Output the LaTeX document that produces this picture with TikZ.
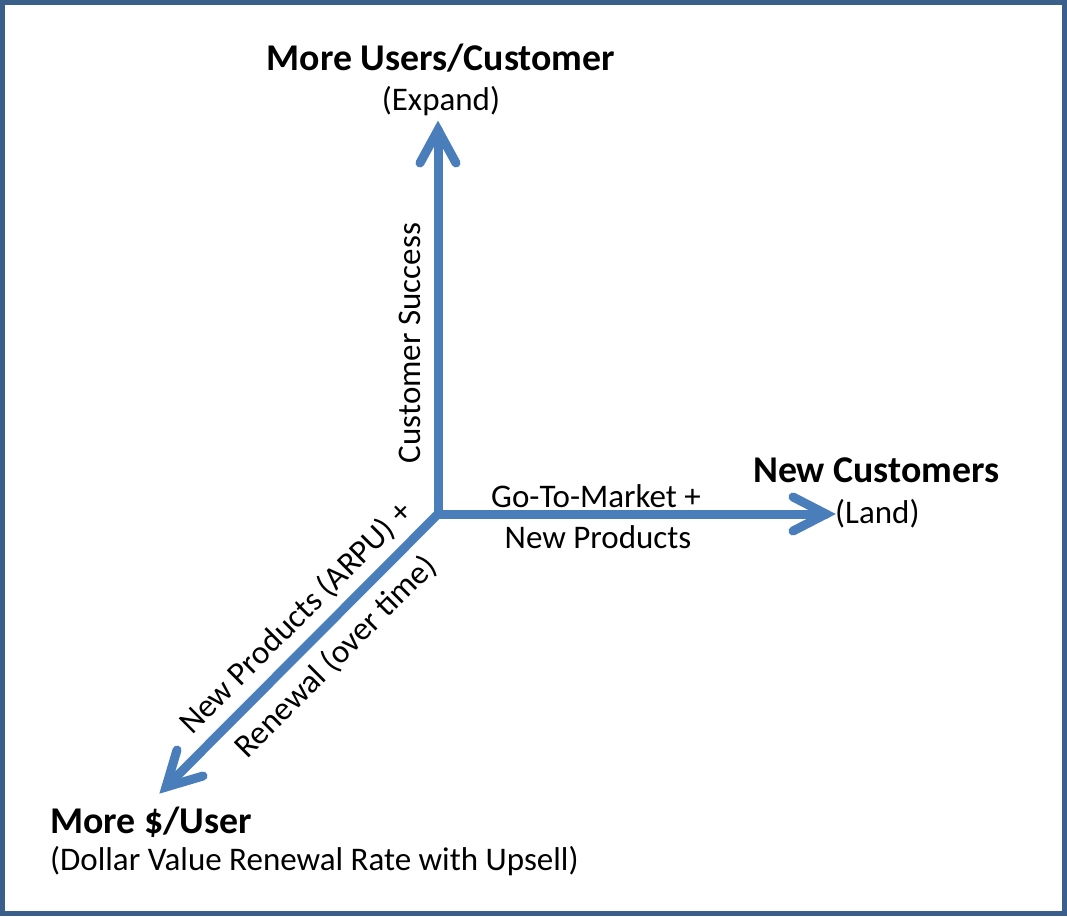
\documentclass[tikz,border=0pt]{standalone}
\usepackage{fontspec}
\setmainfont{Carlito}
\begin{document}
\begin{tikzpicture}[x=1pt,y=-1pt,
  axis/.style={draw=arrowblue,line width=9pt,line cap=round,line join=miter},
  head/.style={draw=arrowblue,line width=9pt,line cap=round,line join=miter,miter limit=10},
  title/.style={font=\fontsize{37.8}{42}\selectfont\bfseries,inner sep=0pt},
  sub/.style={font=\fontsize{33}{38}\selectfont,inner sep=0pt},
  lab/.style={font=\fontsize{33}{38}\selectfont,inner sep=0pt}]
\definecolor{arrowblue}{HTML}{4A7EBB}
\definecolor{framecol}{HTML}{3A5F8B}
\useasboundingbox (0,0) rectangle (1067,916);
\draw[framecol,line width=5pt] (2.5,2.5) rectangle (1064.5,913.5);
% axes
\coordinate (o) at (438,514);
\coordinate (up) at (438,130);
\coordinate (upL) at (420,163);
\coordinate (upR) at (456,163);
\coordinate (rt) at (826,514);
\coordinate (rtU) at (793,497);
\coordinate (rtD) at (793,531);
\coordinate (dg) at (166,787);
\coordinate (dgA) at (203,776);
\coordinate (dgB) at (177,750);
\draw[axis] (o) -- (up);
\draw[axis] (o) -- (rt);
\draw[axis] (o) -- (dg);
\draw[head] (upL) -- (up) -- (upR);
\draw[head] (rtU) -- (rt) -- (rtD);
\draw[head] (dgA) -- (dg) -- (dgB);
% labels
\node[title] (t1) at (441,58) {More Users/Customer};
\node[sub] (s1) at (441,101) {(Expand)};
\node[lab,rotate=90] (cs) at (410,343) {Customer Success};
\node[lab] (g1) at (596,496) {Go-To-Market +};
\node[lab] (g2) at (598,537) {New Products};
\node[title,anchor=west] (t2) at (753,470) {New Customers};
\node[sub,anchor=west] (s2) at (835,514) {(Land)};
\node[title,anchor=west] (t3) at (50,822) {More \$/User};
\node[sub,anchor=west] (s3) at (50,861) {(Dollar Value Renewal Rate with Upsell)};
\node[lab,rotate=45] (d1) at (296,618) {New Products (ARPU) +};
\node[lab,rotate=45] (d2) at (336,657) {Renewal (over time)};
\end{tikzpicture}
\end{document}
